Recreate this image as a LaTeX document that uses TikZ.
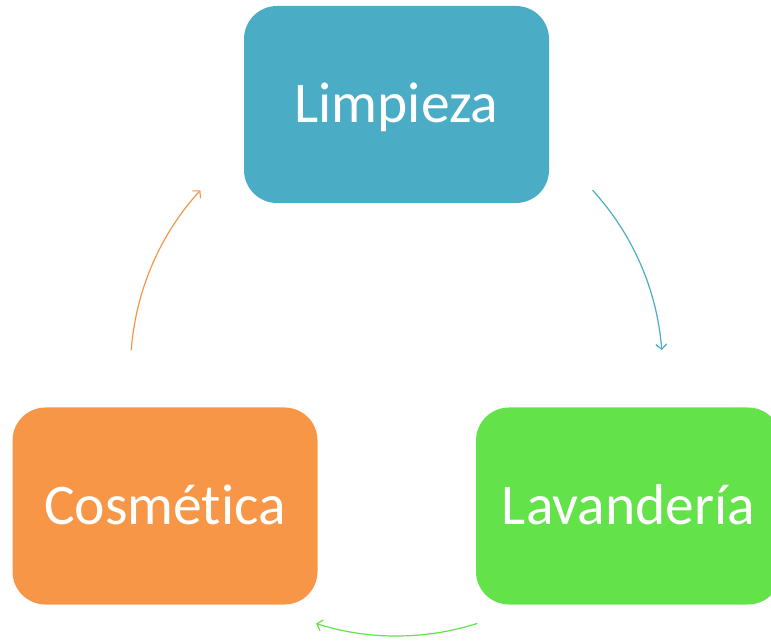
\documentclass[tikz,border=0pt]{standalone}
\usepackage{fontspec}
\setmainfont{Carlito}[RawFeature=-liga]
\usetikzlibrary{arrows.meta,calc}
\definecolor{cblue}{HTML}{4BACC6}
\definecolor{cgreen}{HTML}{63E24A}
\definecolor{corange}{HTML}{F79646}
\begin{document}
\begin{tikzpicture}[x=1pt,y=1pt,
  box/.style={rounded corners=33pt, minimum width=305pt, minimum height=197pt,
    text=white, font=\fontsize{57.5}{62}\selectfont, inner sep=0pt,
    text height=37pt, text depth=0pt},
  conn/.style={line width=1.2pt, -{Straight Barb[length=5pt,width=11pt]}}]
\useasboundingbox (0,0) rectangle (771,640);
\node[box, fill=cblue] (limp) at (396.5,535.5) {Limpieza};
\node[box, fill=cgreen] (lav) at (628.5,134) {Lavandería};
\node[box, fill=corange] (cos) at (165,134) {Cosmética};
\coordinate (ctr) at (396.5,270);
\coordinate (b1) at ($(ctr)+(42.5:266)$);
\coordinate (g1) at ($(ctr)+(-72.3:266)$);
\coordinate (o1) at ($(ctr)+(175.7:266)$);
\draw[conn, cblue] (b1) arc[start angle=42.5, end angle=4.3, radius=266];
\draw[conn, cgreen] (g1) arc[start angle=-72.3, end angle=-107.6, radius=266];
\draw[conn, corange] (o1) arc[start angle=175.7, end angle=137.5, radius=266];
\end{tikzpicture}
\end{document}
